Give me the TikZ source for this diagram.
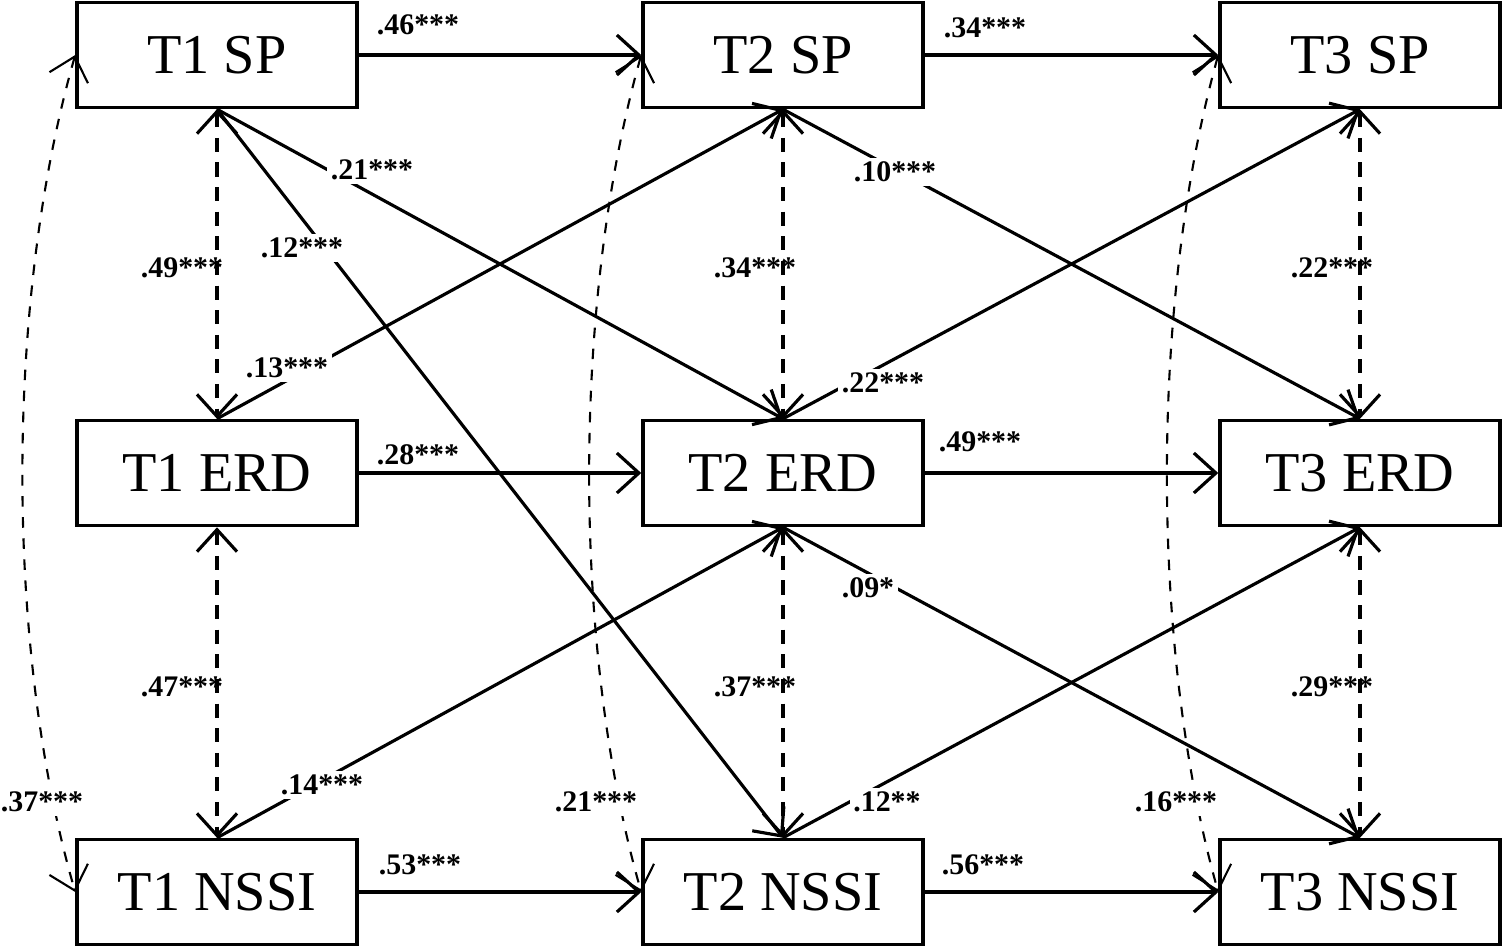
\documentclass[tikz,border=0pt]{standalone}
\usepackage{fontspec}
\usetikzlibrary{arrows.meta}
\setmainfont{Liberation Serif}
\begin{document}
\begin{tikzpicture}[x=0.01cm,y=-0.01cm,
 >={Straight Barb[length=2.2mm,width=4mm]},
 box/.style={draw,line width=1pt,minimum width=280*0.01cm,minimum height=105*0.01cm,inner sep=0pt,font=\fontsize{16}{20}\selectfont},
 lab/.style={fill=white,inner sep=1pt,font=\bfseries\fontsize{8.5}{10}\selectfont},
 arr/.style={->,line width=0.9pt},
 darr/.style={<->,dash pattern=on 4pt off 3pt,line width=0.9pt},
 carr/.style={<->,dashed,line width=0.6pt}]
\useasboundingbox (0,0) rectangle (1502,947);
\foreach \c/\x in {1/217,2/783,3/1360}{
 \node[box] (sp\c) at (\x,55) {T\c\ SP};
 \node[box] (erd\c) at (\x,473) {T\c\ ERD};
 \node[box] (nssi\c) at (\x,892) {T\c\ NSSI};
}
% horizontal
\draw[arr] (sp1) -- (sp2);
\draw[arr] (sp2) -- (sp3);
\draw[arr] (erd1) -- (erd2);
\draw[arr] (erd2) -- (erd3);
\draw[arr] (nssi1) -- (nssi2);
\draw[arr] (nssi2) -- (nssi3);
\node[lab,fill=none] (l1) at (418,25) {.46***};
\node[lab,fill=none] (l2) at (985,28) {.34***};
\node[lab,fill=none] (l3) at (418,455) {.28***};
\node[lab,fill=none] (l4) at (980,442) {.49***};
\node[lab,fill=none] (l5) at (420,865) {.53***};
\node[lab,fill=none] (l6) at (983,865) {.56***};
% vertical dashed
\foreach \c/\xx/\a/\b in {1/217/.49***/.47***,2/783/.34***/.37***,3/1360/.22***/.29***}{
 \draw[darr] (sp\c.south) -- (erd\c.north);
 \draw[darr] (erd\c.south) -- (nssi\c.north);
}
\node[lab,fill=none] at (182,268) {.49***};
\node[lab,fill=none] at (182,687) {.47***};
\node[lab,fill=none] at (755,268) {.34***};
\node[lab,fill=none] at (755,687) {.37***};
\node[lab,fill=none] at (1332,268) {.22***};
\node[lab,fill=none] at (1332,687) {.29***};
% cross-lagged
\draw[arr] (sp1.south) -- (erd2.north);
\draw[arr] (sp1.south) -- (nssi2.north);
\draw[arr] (erd1.north) -- (sp2.south);
\draw[arr] (nssi1.north) -- (erd2.south);
\draw[arr] (sp2.south) -- (erd3.north);
\draw[arr] (erd2.north) -- (sp3.south);
\draw[arr] (erd2.south) -- (nssi3.north);
\draw[arr] (nssi2.north) -- (erd3.south);
\node[lab] at (372,170) {.21***};
\node[lab] at (302,248) {.12***};
\node[lab] at (287,368) {.13***};
\node[lab] at (322,785) {.14***};
\node[lab] at (895,172) {.10***};
\node[lab] at (883,383) {.22***};
\node[lab] at (868,588) {.09*};
\node[lab] at (887,802) {.12**};
% curved
\draw[carr] (sp1.west) .. controls (5,300) and (5,650) .. (nssi1.west);
\draw[carr] (sp2.west) .. controls (572,300) and (572,650) .. (nssi2.west);
\draw[carr] (sp3.west) .. controls (1150,300) and (1150,650) .. (nssi3.west);
\node[lab] at (42,802) {.37***};
\node[lab] at (596,802) {.21***};
\node[lab] at (1176,802) {.16***};
\end{tikzpicture}
\end{document}
